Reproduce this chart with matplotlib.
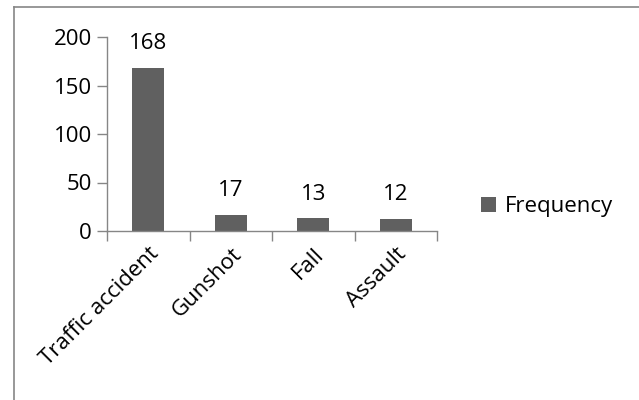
import matplotlib
matplotlib.use("Agg")
import matplotlib.pyplot as plt
from matplotlib.lines import Line2D
import numpy as np

categories = ["Traffic accident", "Gunshot", "Fall", "Assault"]
frequency = [168, 17, 13, 12]
yticks = [0, 50, 100, 150, 200]
series_name = "Frequency"

plt.rcParams["font.family"] = ["Open Sans", "DejaVu Sans"]

bar_color = "#606060"
axis_color = "#868686"
fs = 16

fig = plt.figure(figsize=(6.39, 4.0), dpi=100)
ax = fig.add_axes([107 / 639, 1 - 231 / 400, 330 / 639, 194 / 400])

x = np.arange(len(categories))
bars = ax.bar(x, frequency, width=0.39, color=bar_color, label=series_name, zorder=2)

for xi, v in zip(x, frequency):
    ax.annotate(str(v), (xi, v), xytext=(0, 10), textcoords="offset points",
                ha="center", va="bottom", fontsize=fs, color="black")

ax.set_xlim(-0.5, len(categories) - 0.5)
ax.set_ylim(0, 200)
ax.set_yticks(yticks)
ax.set_yticklabels([str(t) for t in yticks], fontsize=fs)

# category boundaries carry the tick marks; labels sit at category centres
ax.set_xticks(np.arange(-0.5, len(categories)), minor=False)
ax.set_xticklabels([])
ax.set_xticks(x, minor=True)
ax.set_xticklabels(categories, minor=True, rotation=45, ha="right",
                   va="top", rotation_mode="anchor", fontsize=fs)
ax.tick_params(axis="x", which="major", length=7, width=1, color=axis_color, direction="out")
ax.tick_params(axis="x", which="minor", length=0, pad=9)
ax.tick_params(axis="y", length=7, width=1, color=axis_color, direction="out", pad=4)

for side in ["top", "right"]:
    ax.spines[side].set_visible(False)
for side in ["left", "bottom"]:
    ax.spines[side].set_color(axis_color)
    ax.spines[side].set_linewidth(1)

leg = fig.legend(handles=[bars], labels=[series_name], loc="center left",
                 bbox_to_anchor=(465 / 639, 1 - 207 / 400), frameon=False,
                 fontsize=fs, handlelength=0.7, handleheight=0.7, handletextpad=0.4,
                 borderpad=0.2)

# chart-area frame (left and top edges)
fig.add_artist(Line2D([14 / 639, 14 / 639], [0, 1 - 7 / 400], transform=fig.transFigure,
                      color=axis_color, linewidth=1.2))
fig.add_artist(Line2D([14 / 639, 1], [1 - 7 / 400, 1 - 7 / 400], transform=fig.transFigure,
                      color=axis_color, linewidth=1.2))

fig.savefig("out.png", dpi=100)
